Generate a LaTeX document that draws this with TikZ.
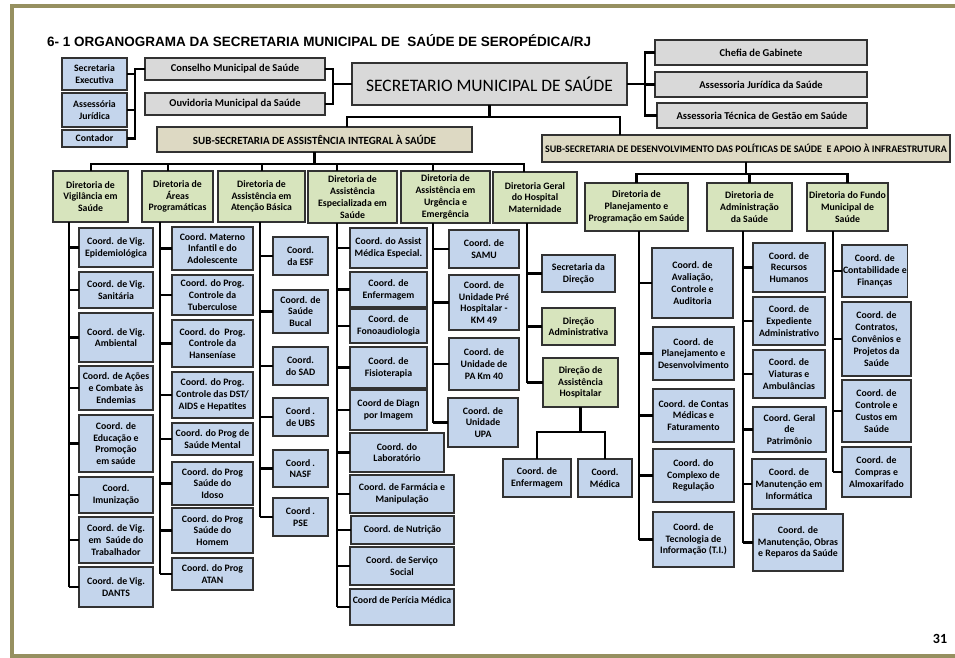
\documentclass[tikz,border=0pt]{standalone}
\usepackage{fontspec}
\setmainfont{Carlito}
\newfontfamily\titlefont{Liberation Sans}
\definecolor{bluec}{RGB}{196,213,236}
\definecolor{greenc}{RGB}{215,228,189}
\definecolor{grayc}{RGB}{217,217,217}
\definecolor{khakic}{RGB}{221,217,195}
\definecolor{bordc}{RGB}{50,50,50}
\definecolor{framec}{RGB}{150,144,96}
\newcommand{\obox}[7]{%
  \pgfmathsetmacro\bw{#5-#3}\pgfmathsetmacro\bh{#6-#4}%
  \node[#2, anchor=north west, minimum width=\bw pt, minimum height=\bh pt] (#1) at (#3,#4) {#7};}
\tikzset{
  bx/.style={draw=bordc, line width=1.3pt, align=center, inner sep=1pt, outer sep=0pt,
    font=\fontsize{9.8}{11.8}\selectfont\bfseries},
  cbox/.style={bx, fill=bluec},
  gbox/.style={bx, fill=greenc},
  sbox/.style={bx, fill=grayc, font=\fontsize{10.5}{12}\selectfont\bfseries},
  kbox/.style={bx, fill=khakic},
  conn/.style={line width=2.6pt, black},
}
\begin{document}
\begin{tikzpicture}[x=1pt,y=-1pt]
\useasboundingbox (0,0) rectangle (955,658);
\fill[white] (0,0) rectangle (955,658);
% frame
\draw[framec, line width=4pt] (12,658) -- (12,6) -- (955,6);
\draw[framec, line width=4pt] (12,656) -- (955,656);
% title
\node[anchor=base west, inner sep=0pt, font=\titlefont\fontsize{13.5}{15}\selectfont\bfseries] (title) at (47,47)
  {6- 1 ORGANOGRAMA DA SECRETARIA MUNICIPAL DE\ \ SAÚDE DE SEROPÉDICA/RJ};
\node[anchor=center, inner sep=0pt, font=\fontsize{14}{16}\selectfont\bfseries] (pg) at (940,639) {31};

% top level
\obox{sexec}{cbox}{62}{58}{127}{90}{Secretaria\\Executiva}
\obox{sjur}{cbox}{62}{93}{127}{127}{Assessória\\Jurídica}
\obox{cont}{cbox}{62}{130}{127}{147}{Contador}
\obox{cms}{sbox}{145}{58}{325}{80}{Conselho Municipal de Saúde}
\obox{ouv}{sbox}{145}{93}{325}{115}{Ouvidoria Municipal da Saúde}
\obox{sec}{bx,fill=grayc,font=\fontsize{17.5}{20}\selectfont}{352}{63}{627}{105}{SECRETARIO MUNICIPAL DE SAÚDE}
\obox{chefia}{sbox}{655}{40}{867}{65}{Chefia de Gabinete}
\obox{ajs}{sbox}{655}{72}{867}{97}{Assessoria Jurídica da Saúde}
\obox{ats}{sbox}{657}{103}{867}{128}{Assessoria Técnica de Gestão em Saúde}
\obox{subA}{kbox,font=\fontsize{11}{13}\selectfont\bfseries}{157}{127}{472}{152}{SUB-SECRETARIA DE ASSISTÊNCIA INTEGRAL À SAÚDE}
\obox{subD}{kbox,font=\fontsize{10}{12}\selectfont\bfseries}{542}{135}{950}{162}{SUB-SECRETARIA DE DESENVOLVIMENTO DAS POLÍTICAS DE SAÚDE\ \ E APOIO À INFRAESTRUTURA}

% directorates
\obox{d1}{gbox}{53}{171}{128}{222}{Diretoria de\\Vigilância em\\Saúde}
\obox{d2}{gbox}{142}{171}{213}{222}{Diretoria de\\Áreas\\Programáticas}
\obox{d3}{gbox}{218}{171}{305}{222}{Diretoria de\\Assistência em\\Atenção Básica}
\obox{d4}{gbox}{308}{171}{397}{223}{Diretoria de\\Assistência\\Especializada em\\Saúde}
\obox{d5}{gbox}{401}{171}{490}{223}{Diretoria de\\Assistência em\\Urgência e\\Emergência}
\obox{d6}{gbox}{493}{172}{577}{223}{Diretoria Geral\\do Hospital\\Maternidade}
\obox{d7}{gbox}{585}{183}{688}{231}{Diretoria de\\Planejamento e\\Programação em Saúde}
\obox{d8}{gbox}{707}{183}{792}{231}{Diretoria de\\Administração\\da Saúde}
\obox{d9}{gbox}{807}{183}{888}{231}{Diretoria do Fundo\\Municipal de\\Saúde}

% column 1
\obox{c11}{cbox}{79}{228}{153}{267}{Coord. de Vig.\\Epidemiológica}
\obox{c12}{cbox}{79}{272}{153}{308}{Coord. de Vig.\\Sanitária}
\obox{c13}{cbox}{79}{313}{153}{362}{Coord. de Vig.\\Ambiental}
\obox{c14}{cbox}{79}{366}{153}{410}{Coord. de Ações\\e Combate às\\Endemias}
\obox{c15}{cbox}{79}{415}{153}{472}{Coord. de\\Educação e\\Promoção\\em saúde}
\obox{c16}{cbox}{79}{477}{153}{513}{Coord.\\Imunização}
\obox{c17}{cbox}{79}{517}{153}{563}{Coord. de Vig.\\em\ \ Saúde do\\Trabalhador}
\obox{c18}{cbox}{79}{567}{153}{607}{Coord. de Vig.\\DANTS}
% column 2
\obox{c21}{cbox}{172}{227}{253}{270}{Coord. Materno\\Infantil e do\\Adolescente}
\obox{c22}{cbox}{172}{275}{253}{315}{Coord. do Prog.\\Controle da\\Tuberculose}
\obox{c23}{cbox}{172}{320}{253}{367}{Coord. do\ \ Prog.\\Controle da\\Hanseníase}
\obox{c24}{cbox}{172}{372}{253}{418}{Coord. do Prog.\\Controle das DST/\\AIDS e Hepatites}
\obox{c25}{cbox}{172}{423}{253}{455}{Coord. do Prog de\\Saúde Mental}
\obox{c26}{cbox}{172}{462}{253}{505}{Coord. do Prog\\Saúde do\\Idoso}
\obox{c27}{cbox}{172}{508}{253}{553}{Coord. do Prog\\Saúde do\\Homem}
\obox{c28}{cbox}{172}{558}{253}{590}{Coord. do Prog\\ATAN}
% column 3
\obox{c31}{cbox}{273}{237}{328}{275}{Coord.\\da ESF}
\obox{c32}{cbox}{273}{290}{328}{333}{Coord. de\\Saúde\\Bucal}
\obox{c33}{cbox}{273}{347}{328}{385}{Coord.\\do SAD}
\obox{c34}{cbox}{273}{398}{328}{436}{Coord .\\de UBS}
\obox{c35}{cbox}{273}{450}{328}{487}{Coord .\\NASF}
\obox{c36}{cbox}{273}{498}{328}{536}{Coord .\\PSE}
% column 4
\obox{c41}{cbox}{350}{228}{427}{268}{Coord. do Assist\\Médica Especial.}
\obox{c42}{cbox}{350}{272}{427}{307}{Coord. de\\Enfermagem}
\obox{c43}{cbox}{350}{309}{427}{343}{Coord. de\\Fonoaudiologia}
\obox{c44}{cbox}{350}{347}{427}{388}{Coord. de\\Fisioterapia}
\obox{c45}{cbox}{350}{390}{427}{430}{Coord de Diagn\\por Imagem}
\obox{c46}{cbox}{350}{433}{444}{472}{Coord. do\\Laboratório}
\obox{c47}{cbox}{350}{475}{454}{513}{Coord. de Farmácia e\\Manipulação}
\obox{c48}{cbox}{351}{516}{454}{544}{Coord. de Nutrição}
\obox{c49}{cbox}{350}{547}{454}{585}{Coord. de Serviço\\Social}
\obox{c410}{cbox}{350}{589}{454}{625}{Coord de Perícia Médica\\[3pt]\mbox{}}
% column 5
\obox{c51}{cbox}{449}{230}{519}{268}{Coord. de\\SAMU}
\obox{c52}{cbox}{449}{275}{519}{330}{Coord. de\\Unidade Pré\\Hospitalar -\\KM 49}
\obox{c53}{cbox}{449}{338}{519}{390}{Coord. de\\Unidade de\\PA Km 40}
\obox{c54}{cbox}{448}{398}{518}{447}{Coord. de\\Unidade\\UPA}
% column 6 (hospital)
\obox{h1}{cbox}{542}{255}{615}{292}{Secretaria da\\Direção}
\obox{h2}{gbox}{542}{308}{615}{345}{Direção\\Administrativa}
\obox{h3}{gbox}{543}{358}{618}{407}{Direção de\\Assistência\\Hospitalar}
\obox{ce}{cbox}{503}{459}{571}{497}{Coord. de\\Enfermagem}
\obox{cm}{cbox}{578}{459}{632}{497}{Coord.\\Médica}
% column 7
\obox{c71}{cbox}{652}{248}{733}{318}{Coord. de\\Avaliação,\\Controle e\\Auditoria}
\obox{c72}{cbox}{653}{327}{734}{380}{Coord. de\\Planejamento e\\Desenvolvimento}
\obox{c73}{cbox}{653}{389}{734}{442}{Coord. de Contas\\Médicas e\\Faturamento}
\obox{c74}{cbox}{653}{449}{734}{502}{Coord. do\\Complexo de\\Regulação}
\obox{c75}{cbox}{653}{512}{734}{567}{Coord. de\\Tecnologia de\\Informação (T.I.)}
% column 8
\obox{c81}{cbox}{753}{243}{825}{292}{Coord. de\\Recursos\\Humanos}
\obox{c82}{cbox}{753}{297}{825}{345}{Coord. de\\Expediente\\Administrativo}
\obox{c83}{cbox}{753}{350}{825}{398}{Coord. de\\Viaturas e\\Ambulâncias}
\obox{c84}{cbox}{753}{407}{826}{452}{Coord. Geral\\de\\Patrimônio}
\obox{c85}{cbox}{752}{459}{826}{509}{Coord. de\\Manutenção em\\Informática}
\obox{c86}{cbox}{753}{514}{843}{571}{Coord. de\\Manutenção, Obras\\e Reparos da Saúde}
% column 9
\obox{c91}{cbox}{842}{245}{907}{297}{Coord. de\\Contabilidade e\\Finanças}
\obox{c92}{cbox}{842}{302}{911}{376}{Coord. de\\Contratos,\\Convênios e\\Projetos da\\Saúde}
\obox{c93}{cbox}{842}{380}{911}{442}{Coord. de\\Controle e\\Custos em\\Saúde}
\obox{c94}{cbox}{842}{447}{911}{497}{Coord. de\\Compras e\\Almoxarifado}

% ---------- connectors ----------
\coordinate (tlx) at (135,0);
\draw[conn] (cms.west) -- (cms.west -| tlx) -- (tlx |- cont.east) -- (cont.east);
\draw[conn] (tlx |- sexec.east) -- (sexec.east);
\draw[conn] (tlx |- sjur.east) -- (sjur.east);
\coordinate (mbx) at (333,0);
\draw[conn] (cms.east) -- (cms.east -| mbx) -- (mbx |- ouv.east) -- (ouv.east);
\draw[conn] (sec.west) -- (sec.west -| mbx);
\coordinate (rbx) at (645,0);
\draw[conn] (chefia.west) -- (chefia.west -| rbx) -- (rbx |- ats.west) -- (ats.west);
\draw[conn] (ajs.west) -- (ajs.west -| rbx);
\draw[conn] (sec.east) -- (sec.east -| rbx);
% secretario to sub-secretarias
\coordinate (jA) at (347,117);
\coordinate (jD) at (620,117);
\draw[conn] (sec.south) -- (sec.south |- jA);
\draw[conn] (jA |- subA.north) -- (jA) -- (jD) -- (jD |- subD.north);
% sub A to directorates
\coordinate (p1) at (91,164);
\coordinate (p2) at (168,164);
\coordinate (p3) at (262,164);
\coordinate (p4) at (337,164);
\coordinate (p5) at (433,164);
\coordinate (p6) at (524,164);
\draw[conn] (subA.south) -- (subA.south |- p1);
\draw[conn] (p1 |- d1.north) -- (p1) -- (p6) -- (p6 |- d6.north);
\draw[conn] (p2) -- (p2 |- d2.north);
\draw[conn] (p3) -- (p3 |- d3.north);
\draw[conn] (p4) -- (p4 |- d4.north);
\draw[conn] (p5) -- (p5 |- d5.north);
% sub D to directorates
\coordinate (barD) at (0,174);
\draw[conn] (subD.south) -- (subD.south |- barD);
\draw[conn] (d7.north) -- (d7.north |- barD) -- (d9.north |- barD) -- (d9.north);
\draw[conn] (d8.north) -- (d8.north |- barD);
% spines
\coordinate (s1) at (69,0);
\coordinate (s2) at (160,0);
\coordinate (s3) at (260,0);
\coordinate (s4) at (337,0);
\coordinate (s5) at (433,0);
\coordinate (s6) at (527,0);
\coordinate (s7) at (639,0);
\coordinate (s8) at (743,0);
\coordinate (s9) at (833,0);
\draw[conn] (s1 |- d1.south) -- (s1 |- c18.west);
\foreach \c in {c11,c12,c13,c14,c15,c16,c17,c18} \draw[conn] (s1 |- \c.west) -- (\c.west);
\draw[conn] (s2 |- d2.south) -- (s2 |- c28.west);
\foreach \c in {c21,c22,c23,c24,c25,c26,c27,c28} \draw[conn] (s2 |- \c.west) -- (\c.west);
\draw[conn] (s3 |- d3.south) -- (s3 |- c36.west);
\foreach \c in {c31,c32,c33,c34,c35,c36} \draw[conn] (s3 |- \c.west) -- (\c.west);
\draw[conn] (s4 |- d4.south) -- (s4 |- c410.west);
\foreach \c in {c41,c42,c43,c44,c45,c46,c47,c48,c49,c410} \draw[conn] (s4 |- \c.west) -- (\c.west);
\draw[conn] (s5 |- d5.south) -- (s5 |- c54.west);
\foreach \c in {c51,c52,c53,c54} \draw[conn] (s5 |- \c.west) -- (\c.west);
\draw[conn] (s6 |- d6.south) -- (s6 |- h3.west);
\foreach \c in {h1,h2,h3} \draw[conn] (s6 |- \c.west) -- (\c.west);
\draw[conn] (s7 |- d7.south) -- (s7 |- c75.west);
\foreach \c in {c71,c72,c73,c74,c75} \draw[conn] (s7 |- \c.west) -- (\c.west);
\draw[conn] (s8 |- d8.south) -- (s8 |- c86.west);
\foreach \c in {c81,c82,c83,c84,c85,c86} \draw[conn] (s8 |- \c.west) -- (\c.west);
\draw[conn] (s9 |- d9.south) -- (s9 |- c94.west);
\foreach \c in {c91,c92,c93,c94} \draw[conn] (s9 |- \c.west) -- (\c.west);
% hospital sub-tree
\coordinate (hb) at (0,432);
\draw[conn] (h3.south) -- (h3.south |- hb);
\draw[conn] (ce.north) -- (ce.north |- hb) -- (cm.north |- hb) -- (cm.north);
\end{tikzpicture}
\end{document}
